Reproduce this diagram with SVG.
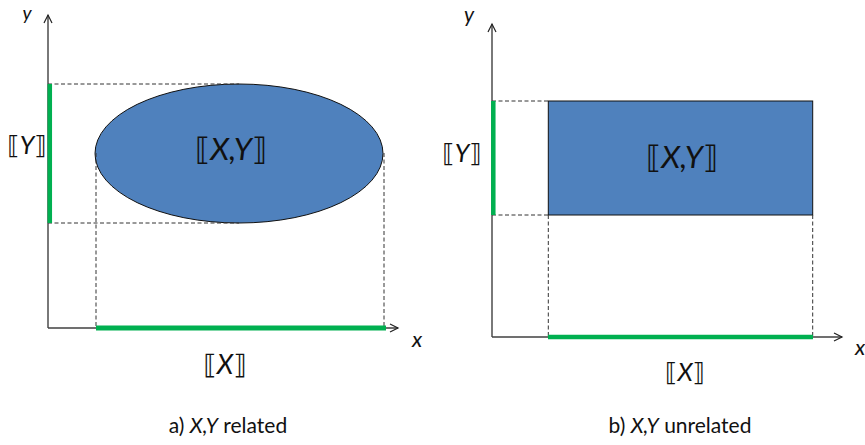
<svg xmlns="http://www.w3.org/2000/svg" width="865" height="445" viewBox="0 0 865 445">
<defs>
<marker id="arr" markerWidth="12" markerHeight="12" refX="10" refY="5" orient="auto" markerUnits="userSpaceOnUse">
<path d="M2,1 L10,5 L2,9" fill="none" stroke="#222" stroke-width="1.2"/>
</marker>
<style>
.ax{stroke:#404040;stroke-width:1.4;fill:none}
.dash{stroke:#333;stroke-width:1;stroke-dasharray:4,2.5;fill:none}
.green{stroke:#00b050;fill:none}
.shape{fill:#4f81bd;stroke:#111;stroke-width:1}
.lbl{font-family:Lato,"Liberation Sans",sans-serif;fill:#111}
.it{font-style:italic}
.br{font-family:"DejaVu Sans",sans-serif;font-style:normal}
.cap{font-family:Lato,"Liberation Sans",sans-serif;font-size:21px;fill:#111}
</style>
</defs>

<g id="panel-a">
<g id="a-shape">
<ellipse class="shape" cx="239" cy="153.5" rx="144" ry="69.5"/>
<text class="lbl" x="231" y="160" font-size="31" text-anchor="middle"><tspan class="br">⟦</tspan><tspan class="it">X,Y</tspan><tspan class="br">⟧</tspan></text>
</g>
<g id="a-connectors">
<line class="dash" x1="48" y1="84" x2="239" y2="84"/>
<line class="dash" x1="48" y1="223" x2="239" y2="223"/>
<line class="dash" x1="96" y1="153" x2="96" y2="328"/>
<line class="dash" x1="384" y1="153" x2="384" y2="328"/>
<line class="ax" x1="48" y1="328" x2="48" y2="15" marker-end="url(#arr)"/>
<line class="ax" x1="48" y1="328" x2="398" y2="328" marker-end="url(#arr)"/>
<line class="green" x1="49.8" y1="84" x2="49.8" y2="223" stroke-width="4.5"/>
<line class="green" x1="96" y1="328" x2="386" y2="328" stroke-width="5"/>
</g>
<g id="a-labels">
<text class="lbl it" x="27" y="20" font-size="19" text-anchor="middle">y</text>
<text class="lbl it" x="417" y="347" font-size="22" text-anchor="middle">x</text>
<text class="lbl" x="27" y="154" font-size="25" text-anchor="middle"><tspan class="br">⟦</tspan><tspan class="it">Y</tspan><tspan class="br">⟧</tspan></text>
<text class="lbl" x="225" y="374" font-size="27" text-anchor="middle"><tspan class="br">⟦</tspan><tspan class="it">X</tspan><tspan class="br">⟧</tspan></text>
<text class="cap" x="228" y="433" text-anchor="middle">a) <tspan class="it">X,Y</tspan> related</text>
</g>
</g>

<g id="panel-b">
<g id="b-shape">
<rect class="shape" x="548.3" y="101" width="264.4" height="114"/>
<text class="lbl" x="682" y="168" font-size="31" text-anchor="middle"><tspan class="br">⟦</tspan><tspan class="it">X,Y</tspan><tspan class="br">⟧</tspan></text>
</g>
<g id="b-connectors">
<line class="dash" x1="492" y1="101" x2="548" y2="101"/>
<line class="dash" x1="492" y1="215" x2="548" y2="215"/>
<line class="dash" x1="548.3" y1="215" x2="548.3" y2="337"/>
<line class="dash" x1="812.7" y1="215" x2="812.7" y2="337"/>
<line class="ax" x1="492" y1="337" x2="492" y2="24" marker-end="url(#arr)"/>
<line class="ax" x1="492" y1="337" x2="842" y2="337" marker-end="url(#arr)"/>
<line class="green" x1="493.3" y1="101" x2="493.3" y2="215" stroke-width="4.5"/>
<line class="green" x1="548" y1="337" x2="813" y2="337" stroke-width="4.5"/>
</g>
<g id="b-labels">
<text class="lbl it" x="469" y="22" font-size="21" text-anchor="middle">y</text>
<text class="lbl it" x="860" y="355" font-size="22" text-anchor="middle">x</text>
<text class="lbl" x="462" y="162" font-size="25" text-anchor="middle"><tspan class="br">⟦</tspan><tspan class="it">Y</tspan><tspan class="br">⟧</tspan></text>
<text class="lbl" x="685" y="381" font-size="25" text-anchor="middle"><tspan class="br">⟦</tspan><tspan class="it">X</tspan><tspan class="br">⟧</tspan></text>
<text class="cap" x="680" y="433" text-anchor="middle">b) <tspan class="it">X,Y</tspan> unrelated</text>
</g>
</g>
</svg>
